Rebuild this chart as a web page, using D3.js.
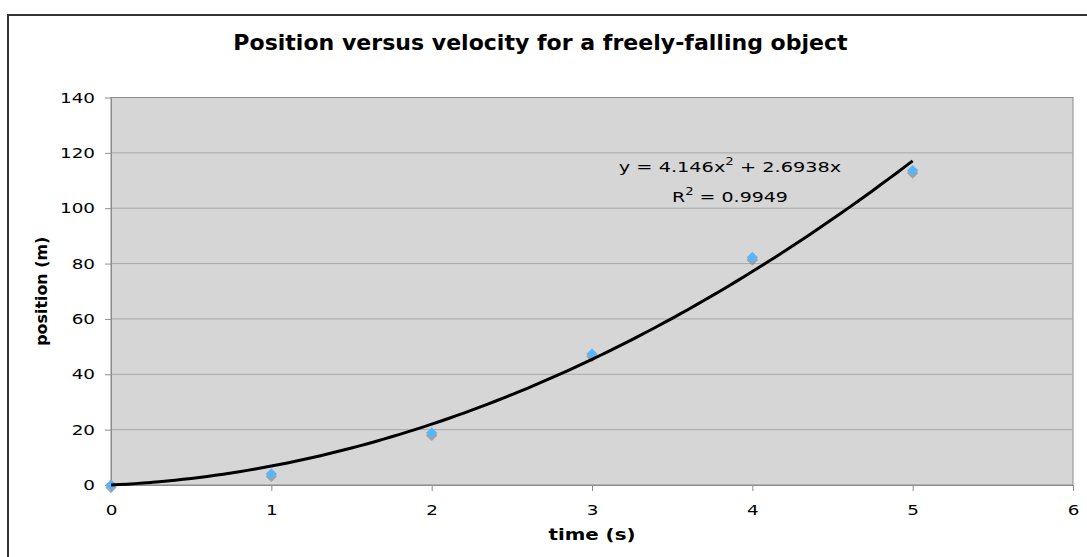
<!DOCTYPE html>
<html><head><meta charset="utf-8">
<script src="https://cdn.jsdelivr.net/npm/d3@7"></script>
<style>body{margin:0;background:#fff}svg{display:block}text{font-family:"DejaVu Sans",Verdana,sans-serif}</style>
</head><body>
<script>
const times = [0, 1, 2, 3, 4, 5];
const positions = [0, 4, 18.8, 47.3, 82.2, 113.6];
const xTicks = [0, 1, 2, 3, 4, 5, 6];
const yTicks = [0, 20, 40, 60, 80, 100, 120, 140];
const fitA = 4.146, fitB = 2.6938;
const titleText = "Position versus velocity for a freely-falling object";

const W = 1087, H = 557;
const svg = d3.select("body").append("svg").attr("width", W).attr("height", H);
svg.append("rect").attr("x", 8).attr("y", 15).attr("width", W + 10).attr("height", H + 10)
  .attr("fill", "#fff").attr("stroke", "#333").attr("stroke-width", 2);

const L = 111, R = 1073, T = 97.5, B = 485;
const x = d3.scaleLinear().domain([0, 6]).range([L, R]);
const y = d3.scaleLinear().domain([0, 140]).range([B, T]);

// stretch a text horizontally around its anchor to reach a target width
function fitWidth(sel, target) {
  sel.each(function () {
    const w = this.getBBox().width;
    const k = target / w;
    const ax = +this.getAttribute("x") || 0;
    const prev = this.getAttribute("transform") || "";
    this.setAttribute("transform", `${prev} translate(${ax},0) scale(${k},1) translate(${-ax},0)`);
  });
}
function stretch(sel, k) {
  sel.each(function () {
    const ax = +this.getAttribute("x") || 0;
    this.setAttribute("transform", `translate(${ax},0) scale(${k},1) translate(${-ax},0)`);
  });
}

svg.append("rect").attr("x", L).attr("y", T).attr("width", R - L).attr("height", B - T)
  .attr("fill", "#d6d6d6").attr("stroke", "#8c8c8c").attr("stroke-width", 1);

svg.append("g").selectAll("line").data(yTicks.filter(d => d > 0 && d < 140)).join("line")
  .attr("x1", L).attr("x2", R).attr("y1", d => y(d)).attr("y2", d => y(d))
  .attr("stroke", "#a9a9a9").attr("stroke-width", 1);

const yAxis = svg.append("g").attr("transform", `translate(${L},0)`)
  .call(d3.axisLeft(y).tickValues(yTicks).tickFormat(d3.format("d")).tickSize(6).tickPadding(10).tickSizeOuter(0));
const xAxis = svg.append("g").attr("transform", `translate(0,${B})`)
  .call(d3.axisBottom(x).tickValues(xTicks).tickFormat(d3.format("d")).tickSize(6).tickPadding(14).tickSizeOuter(0));
[yAxis, xAxis].forEach(g => {
  g.select(".domain").attr("stroke", "#8c8c8c");
  g.selectAll(".tick line").attr("stroke", "#8c8c8c");
  g.selectAll("text").attr("font-size", 14.7).attr("fill", "#000")
    .style("font-family", '"DejaVu Sans",Verdana,sans-serif');
});
stretch(yAxis.selectAll("text"), 1.25);
stretch(xAxis.selectAll("text"), 1.25);

// markers with shadow
const pts = times.map((t, i) => [t, positions[i]]);
const marker = d3.symbol().type(d3.symbolSquare).size(64);
svg.append("g").selectAll("path").data(pts).join("path")
  .attr("d", marker)
  .attr("transform", d => `translate(${x(d[0])},${y(d[1]) + 2.5}) rotate(45)`)
  .attr("fill", "#8f8f8f").attr("opacity", 0.75);
svg.append("g").selectAll("path").data(pts).join("path")
  .attr("d", marker)
  .attr("transform", d => `translate(${x(d[0])},${y(d[1])}) rotate(45)`)
  .attr("fill", "#5ab4f6");

// trendline
const fitPts = d3.range(0, 5.0001, 0.05).map(t => [t, fitA * t * t + fitB * t]);
svg.append("path").datum(fitPts)
  .attr("d", d3.line().x(d => x(d[0])).y(d => y(d[1])).curve(d3.curveMonotoneX))
  .attr("fill", "none").attr("stroke", "#000").attr("stroke-width", 3);

// equation
const eq = svg.append("text").attr("x", 730).attr("y", 172).attr("text-anchor", "middle").attr("font-size", 14.5);
eq.append("tspan").text("y = 4.146x");
eq.append("tspan").text("2").attr("font-size", 10).attr("dy", -7);
eq.append("tspan").text(" + 2.6938x").attr("dy", 7);
fitWidth(eq, 223);
const r2 = svg.append("text").attr("x", 730).attr("y", 202).attr("text-anchor", "middle").attr("font-size", 14.5);
r2.append("tspan").text("R");
r2.append("tspan").text("2").attr("font-size", 10).attr("dy", -7);
r2.append("tspan").text(" = 0.9949").attr("dy", 7);
fitWidth(r2, 116);

const title = svg.append("text").attr("x", 540.5).attr("y", 50).attr("text-anchor", "middle")
  .attr("font-size", 20.5).attr("font-weight", "bold").text(titleText);
fitWidth(title, 615);
const xl = svg.append("text").attr("x", 592).attr("y", 540).attr("text-anchor", "middle")
  .attr("font-size", 15.5).attr("font-weight", "bold").text("time (s)");
fitWidth(xl, 87);
svg.append("text").attr("transform", `translate(47,${(T + B) / 2}) rotate(-90)`).attr("text-anchor", "middle")
  .attr("font-size", 15.5).attr("font-weight", "bold")
  .attr("textLength", 109).attr("lengthAdjust", "spacingAndGlyphs").text("position (m)");
</script>
</body></html>
